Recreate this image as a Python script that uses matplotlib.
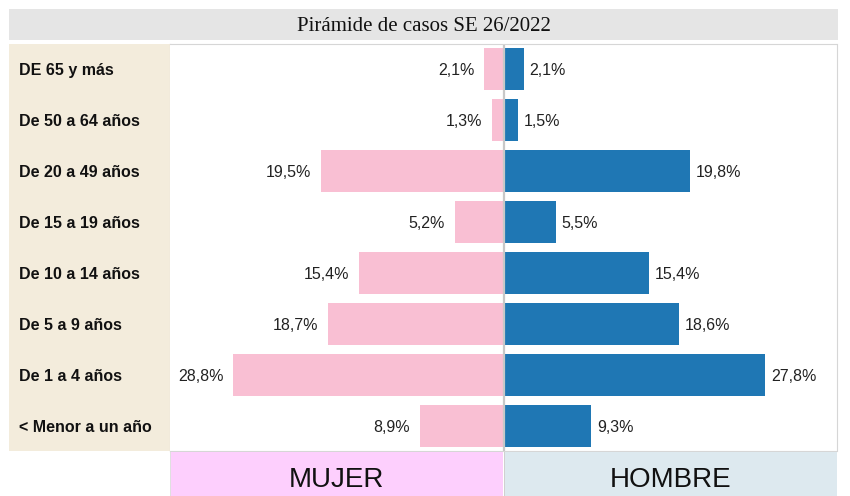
import matplotlib
matplotlib.use("Agg")
import matplotlib.pyplot as plt
from matplotlib.patches import Rectangle

# ---- data ----
categories = ["DE 65 y más", "De 50 a 64 años", "De 20 a 49 años", "De 15 a 19 años",
              "De 10 a 14 años", "De 5 a 9 años", "De 1 a 4 años", "< Menor a un año"]
mujer = [2.1, 1.3, 19.5, 5.2, 15.4, 18.7, 28.8, 8.9]
hombre = [2.1, 1.5, 19.8, 5.5, 15.4, 18.6, 27.8, 9.3]
title = "Pirámide de casos SE 26/2022"
legend_labels = ["MUJER", "HOMBRE"]

W, H = 850, 496
PINK = "#f9bfd3"
BLUE = "#1f77b4"
BEIGE = "#f3ecdc"
GRAY_BAND = "#e5e5e5"
BORDER = "#d6d6d6"
MUJER_BG = "#fdcffd"
HOMBRE_BG = "#dde9ef"

plt.rcParams['font.family'] = ['Liberation Sans', 'DejaVu Sans']

fig = plt.figure(figsize=(W / 100, H / 100), dpi=100)
fig.patch.set_facecolor("white")


def fax(x0, y0, x1, y1):
    """axes from pixel box (top-left origin)"""
    return fig.add_axes([x0 / W, 1 - y1 / H, (x1 - x0) / W, (y1 - y0) / H])


# title band
tax = fax(9, 9, 838, 40)
tax.set_facecolor(GRAY_BAND)
tax.set_xticks([]); tax.set_yticks([])
for s in tax.spines.values():
    s.set_visible(False)
tax.text(0.5, 0.45, title, ha="center", va="center", fontsize=15,
         family=["Liberation Serif", "DejaVu Serif"], color="#111111",
         transform=tax.transAxes)

n = len(categories)
ypos = list(range(n))

# label column
lax = fax(9, 44, 170, 451)
lax.set_facecolor(BEIGE)
lax.set_ylim(n - 0.5, -0.5)
lax.set_xlim(0, 1)
lax.set_xticks([]); lax.set_yticks([])
for s in lax.spines.values():
    s.set_visible(False)
lax.spines["right"].set_visible(True)
lax.spines["right"].set_color(BORDER)
for y, c in zip(ypos, categories):
    lax.text(10 / 161, y + 0.03, c, ha="left", va="center", fontsize=11.5,
             fontweight="bold", color="#111111")

# main plot
ax = fax(170, 44, 836.5, 451)
scale = 9.4
ax.set_xlim(-334 / scale, 332.5 / scale)
ax.set_ylim(n - 0.5, -0.5)
ax.barh(ypos, [-v for v in mujer], height=0.825, color=PINK)
ax.barh(ypos, hombre, height=0.825, color=BLUE)
ax.axvline(0, color="#c8c8c8", lw=1.6)
ax.set_xticks([]); ax.set_yticks([])
for s in ax.spines.values():
    s.set_color(BORDER)
ax.spines["left"].set_visible(False)

for y, v in zip(ypos, mujer):
    ax.annotate(f"{v:.1f}%".replace(".", ","), xy=(-v, y + 0.03), xytext=(-10, 0),
                textcoords="offset pixels", ha="right", va="center",
                fontsize=11.5, color="#222222")
for y, v in zip(ypos, hombre):
    ax.annotate(f"{v:.1f}%".replace(".", ","), xy=(v, y + 0.03), xytext=(6, 0),
                textcoords="offset pixels", ha="left", va="center",
                fontsize=11.5, color="#222222")

# bottom legend bands
for (x0, x1, col, lab) in [(170, 503.5, MUJER_BG, legend_labels[0]),
                           (504.5, 837, HOMBRE_BG, legend_labels[1])]:
    bax = fax(x0, 452, x1, 500)
    bax.set_facecolor(col)
    bax.set_xticks([]); bax.set_yticks([])
    for s in bax.spines.values():
        s.set_visible(False)
    bax.text(0.5, 0.42, lab, ha="center", va="center", fontsize=20,
             color="#111111", transform=bax.transAxes)

# vertical separators in the bottom band
fig.add_artist(Rectangle((503.5 / W, 0), 1 / W, (496 - 452) / H,
                         transform=fig.transFigure, color="#d0d0d0", lw=0))
fig.add_artist(Rectangle((169.5 / W, 0), 1 / W, (496 - 452) / H,
                         transform=fig.transFigure, color="#e0e0e0", lw=0))

fig.savefig("out.png", dpi=100, facecolor="white")
